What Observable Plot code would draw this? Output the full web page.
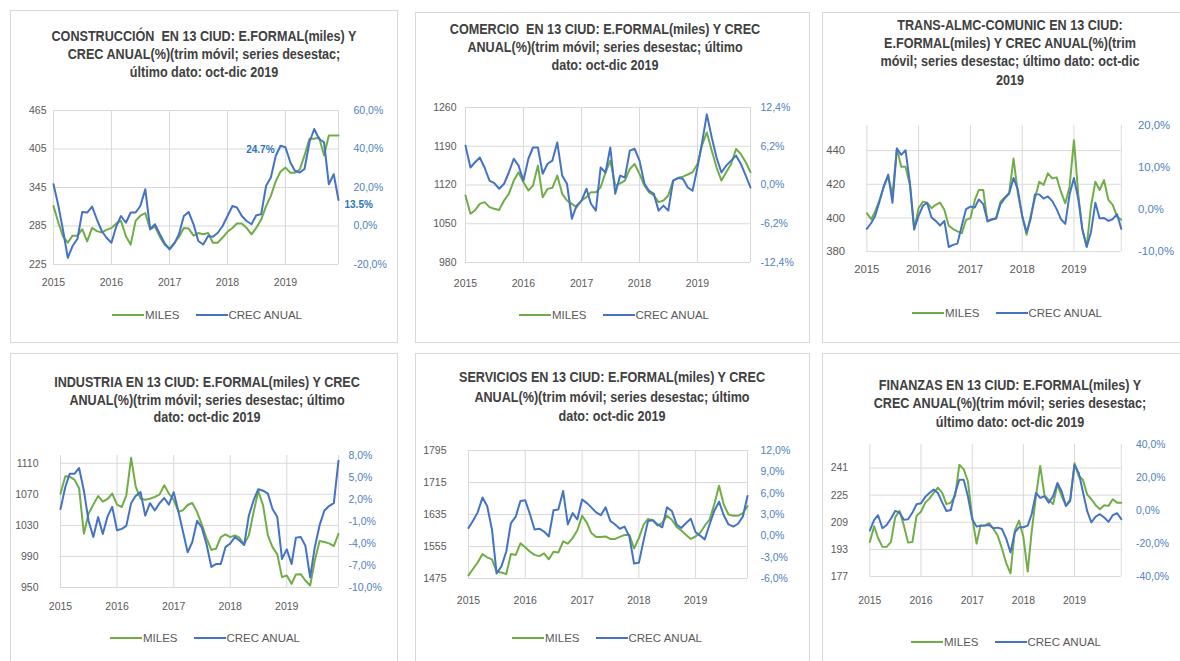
<!DOCTYPE html>
<html><head><meta charset="utf-8">
<script src="https://cdn.jsdelivr.net/npm/d3@7"></script>
<script src="https://cdn.jsdelivr.net/npm/@observablehq/plot@0.6"></script>
<style>
body{margin:0;background:#fff;width:1180px;height:661px;overflow:hidden;position:relative;font-family:"Liberation Sans Narrow","Liberation Sans",Arial,sans-serif;}
.card{position:absolute;border:1px solid #d9d9d9;background:#fff;box-sizing:border-box;}
.title{position:absolute;transform:translateX(-50%) scaleX(0.9);text-align:center;font-weight:bold;font-size:14px;color:#404040;white-space:pre;}
.chart{position:absolute;}
.chart svg{overflow:visible;}
.legend{position:absolute;transform:translate(-50%,-50%);display:flex;align-items:center;font-size:11.5px;color:#595959;white-space:nowrap;}
.sw{display:inline-block;width:32px;height:2px;margin-right:1px;}
</style></head><body>
<script>
// ---------- DATA ----------
const years = ["2015","2016","2017","2018","2019"];

const construccionMiles = [316,290,269,259,270,270,280,261,282,277,275,279,282,289,293,269,256,293,301,305,280,284,268,256,250,259,268,282,281,270,274,272,274,259,259,267,276,282,289,289,282,272,282,295,316,332,355,370,376,368,368,373,395,421,421,423,395,426,426,426];
const construccionCrec = [21.7,10.4,-1.7,-16.5,-10.4,-6.6,7.3,7.0,10.1,3.5,-2.6,-6.1,-8.7,0.0,5.2,1.7,7.0,7.0,10.4,19.1,-1.7,0.9,-4.3,-9.0,-12.2,-9.0,-4.3,5.2,7.3,0.9,-7.8,-9.6,-5.2,-5.6,-3.5,0.0,5.2,10.4,9.6,5.2,2.6,0.9,5.6,6.1,20.9,25.2,36.5,41.7,40.9,33.0,28.7,27.8,29.6,43.5,50.4,45.2,43.5,21.7,26.9,13.5];
const construccionNotes = ["24.7%","13.5%"];

const comercioMiles = [1101,1068,1074,1086,1089,1080,1077,1075,1092,1104,1128,1143,1125,1110,1119,1155,1098,1113,1115,1137,1104,1092,1086,1080,1092,1098,1107,1107,1116,1143,1164,1119,1123,1128,1149,1158,1140,1119,1107,1101,1089,1092,1101,1128,1133,1135,1139,1143,1158,1194,1215,1182,1152,1128,1143,1158,1185,1176,1161,1143];
const comercioCrec = [6.3,2.8,3.6,4.4,2.8,0.7,0.3,-0.6,0.2,2.0,4.2,3.1,0.7,4.2,6.0,6.0,1.8,3.4,3.9,6.8,1.5,0.2,-5.4,-3.3,-2.5,-0.6,-3.0,-4.1,2.8,2.0,6.0,-1.4,1.5,1.2,5.5,5.8,3.9,0.2,-0.9,-1.4,-4.1,-3.3,-4.1,0.7,1.1,1.0,-0.4,-0.9,2.8,7.1,11.3,7.6,4.4,2.0,3.1,3.9,4.7,3.4,1.5,-0.4];

const transMiles = [402.8,399.3,403.8,410.7,418.6,424.5,413.7,441.2,430.4,430.4,419.6,393.0,405.8,409.7,409.1,405.8,407.8,409.1,404.8,395.4,393.4,392.0,391.0,398.9,399.9,410.7,416.6,416.6,397.9,398.9,399.7,409.7,412.3,414.7,435.3,414.7,400.9,390.0,400.9,411.7,421.5,419.6,426.5,423.5,424.1,415.6,408.7,418.6,446.2,413.7,393.0,383.1,406.8,421.5,416.6,422.5,410.7,407.8,400.9,398.9];
const transCrec = [-4.6,-3.2,-1.5,2.0,5.6,8.3,1.6,14.5,13.0,14.1,6.3,-4.6,-1.5,0.9,1.6,-1.9,-2.7,-3.8,-2.7,-8.9,-8.4,-8.1,-3.8,0.1,0.7,0.5,2.4,1.3,-2.7,-2.3,-2.1,1.3,2.7,3.8,7.5,4.8,-1.5,-5.4,-2.3,3.6,3.6,2.6,3.1,2.0,0.1,-2.3,-3.4,3.6,7.5,2.4,-4.6,-8.9,-5.4,1.6,-2.1,-2.0,-2.7,-2.3,-1.1,-4.6];

const industriaMiles = [1070.9,1093.2,1092.8,1088.9,1077.7,1019.2,1045.1,1056.7,1067.8,1060.5,1064.0,1070.9,1056.7,1053.7,1068.7,1117.0,1079.5,1064.4,1063.1,1064.4,1066.6,1069.6,1081.6,1070.9,1062.7,1047.6,1049.4,1056.2,1058.8,1047.2,1031.3,1013.2,998.6,999.9,1014.9,1018.4,1014.9,1017.1,1014.1,1005.5,1017.1,1047.2,1074.3,1055.8,1017.1,1002.0,992.6,963.3,965.5,954.7,966.8,967.2,959.0,952.6,984.8,1009.8,1008.5,1006.8,1003.3,1019.2];
const industriaCrec = [0.7,3.7,5.5,5.5,6.3,3.2,-0.9,-3.1,-0.4,-2.7,-0.3,1.0,-2.2,-2.0,-1.6,1.5,2.5,3.0,-0.2,1.5,0.5,1.5,2.2,1.3,3.0,0.3,-2.3,-5.2,-3.8,-0.9,-1.8,-4.1,-7.2,-6.8,-6.8,-4.5,-4.0,-3.1,-3.6,-4.2,-0.2,1.9,3.4,3.2,2.8,0.7,-0.4,-6.1,-4.8,-6.8,-3.2,-3.1,-4.3,-8.6,-4.5,-1.5,0.5,1.1,1.5,7.3];

const serviciosMiles = [1483,1500,1515,1536,1528,1523,1492,1490,1486,1536,1534,1563,1553,1542,1534,1531,1538,1523,1542,1540,1568,1562,1576,1595,1632,1614,1589,1579,1579,1580,1574,1574,1579,1584,1584,1550,1576,1610,1624,1621,1607,1614,1632,1622,1604,1595,1584,1574,1580,1590,1607,1622,1660,1707,1660,1635,1632,1632,1638,1656];
const serviciosCrec = [1.1,2.2,3.3,5.4,4.2,0.9,-5.3,-4.3,-2.2,1.8,2.7,4.9,5.0,3.0,0.9,1.0,0.6,-0.1,3.6,3.7,6.3,1.6,3.2,2.3,5.1,4.6,4.0,3.3,2.9,4.0,2.1,1.6,1.0,1.3,-0.1,-3.9,-3.8,-0.6,2.1,2.2,1.6,1.2,4.0,3.5,1.6,1.1,1.8,2.4,0.5,0.0,-0.5,1.6,3.5,4.8,2.9,1.6,1.3,1.7,2.7,5.6];

const finanzasMiles = [197.4,206.7,199.7,194.5,194.5,197.4,211.9,215.8,207.1,197.0,197.4,212.9,215.2,220.6,223.0,226.4,229.4,226.4,219.7,220.6,224.5,242.9,240.4,233.2,211.9,196.4,207.1,207.1,208.6,205.1,201.2,193.5,184.8,178.9,204.1,210.0,200.3,179.9,203.2,224.5,242.3,224.9,222.2,219.7,231.3,224.5,218.7,222.6,243.9,236.1,234.2,225.5,222.6,219.1,216.7,219.1,218.7,222.6,220.6,220.6];
const finanzasCrec = [-12.2,-5.7,-2.9,-10.8,-8.8,-4.9,-0.3,-1.3,-5.7,-5.3,-1.3,3.7,4.3,8.2,10.6,12.6,10.6,4.7,-0.3,0.3,10.6,18.6,18.6,8.6,-5.3,-9.8,-9.2,-9.2,-8.8,-10.8,-10.4,-11.2,-17.2,-25.5,-13.2,-10.2,-10.2,-9.2,-2.3,10.6,7.6,8.6,4.7,8.6,16.6,11.6,2.7,5.7,27.5,22.5,11.6,-0.3,-7.2,-3.7,-2.3,-4.3,-6.9,-2.9,-1.7,-5.3];

const constLeftTicks = [225,285,345,405,465], constRightTicks = [-20,0,20,40,60];
const comLeftTicks = [980,1050,1120,1190,1260], comRightTicks = [-12.4,-6.2,0,6.2,12.4];
const transLeftTicks = [380,400,420,440], transRightTicks = [-10,0,10,20];
const indLeftTicks = [950,990,1030,1070,1110], indRightTicks = [-10,-7,-4,-1,2,5,8];
const servLeftTicks = [1475,1555,1635,1715,1795], servRightTicks = [-6,-3,0,3,6,9,12];
const finLeftTicks = [177,193,209,225,241], finRightTicks = [-40,-20,0,20,40];

const constDomains = [[225,465],[-20,60]];
const comDomains = [[980,1260],[-12.4,12.4]];
const transDomains = [[380,455],[-10,20]];
const indDomains = [[950,1120],[-10,8]];
const servDomains = [[1475,1795],[-6,12]];
const finDomains = [[177,255],[-40,40]];

const titleConstruccion = ["CONSTRUCCIÓN  EN 13 CIUD: E.FORMAL(miles) Y","CREC ANUAL(%)(trim móvil; series desestac;","último dato: oct-dic 2019"];
const titleComercio = ["COMERCIO  EN 13 CIUD: E.FORMAL(miles) Y CREC","ANUAL(%)(trim móvil; series desestac; último","dato: oct-dic 2019"];
const titleTrans = ["TRANS-ALMC-COMUNIC EN 13 CIUD:","E.FORMAL(miles) Y CREC ANUAL(%)(trim","móvil; series desestac; último dato: oct-dic","2019"];
const titleIndustria = ["INDUSTRIA EN 13 CIUD: E.FORMAL(miles) Y CREC","ANUAL(%)(trim móvil; series desestac; último","dato: oct-dic 2019"];
const titleServicios = ["SERVICIOS EN 13 CIUD: E.FORMAL(miles) Y CREC","ANUAL(%)(trim móvil; series desestac; último","dato: oct-dic 2019"];
const titleFinanzas = ["FINANZAS EN 13 CIUD: E.FORMAL(miles) Y","CREC ANUAL(%)(trim móvil; series desestac;","último dato: oct-dic 2019"];
const legendLabels = ["MILES","CREC ANUAL"];

// ---------- LAYOUT ----------
const GREEN = "#70ad47", BLUE = "#4472c4", BLUETXT = "#4f81bd", GRID = "#d9d9d9", TXT = "#595959";
const FONT = "'Liberation Sans Narrow','Liberation Sans',Arial,sans-serif";
const months = d3.utcMonth.range(new Date(Date.UTC(2015,0,1)), new Date(Date.UTC(2020,0,1)));
const yearDates = years.map(y => new Date(Date.UTC(+y,0,1)));
const gridDates = [...yearDates, months[months.length-1]];
const fmtPct = d => d.toFixed(1).replace(".", ",") + "%";

const panels = [
  {miles:construccionMiles, crec:construccionCrec, title:titleConstruccion, lt:constLeftTicks, rt:constRightTicks, dom:constDomains,
   card:[10,10,388,333], tc:[204,36,18], P:[53,338,110,264], lpad:7, rpad:15, xpad:14, fs:10.5, leg:[207,315], notes:construccionNotes},
  {miles:comercioMiles, crec:comercioCrec, title:titleComercio, lt:comLeftTicks, rt:comRightTicks, dom:comDomains,
   card:[415,12,395,331], tc:[605,29,18], P:[465,750,107,262], lpad:9, rpad:10, xpad:17, fs:10.5, leg:[614,315]},
  {miles:transMiles, crec:transCrec, title:titleTrans, lt:transLeftTicks, rt:transRightTicks, dom:transDomains,
   card:[822,12,370,331], tc:[1010,25,18.3], P:[867,1125,125,253], lpad:22, rpad:17, xpad:13, fs:11.5, leg:[1007,313]},
  {miles:industriaMiles, crec:industriaCrec, title:titleIndustria, lt:indLeftTicks, rt:indRightTicks, dom:indDomains,
   card:[10,353,388,320], tc:[207,383,17.5], P:[60,338,455,587], lpad:22, rpad:10, xpad:15, fs:10.5, leg:[205,638]},
  {miles:serviciosMiles, crec:serviciosCrec, title:titleServicios, lt:servLeftTicks, rt:servRightTicks, dom:servDomains,
   card:[415,353,395,320], tc:[612,378,19.5], P:[468,747,450,578], lpad:22, rpad:13, xpad:18, fs:10.5, leg:[607,638]},
  {miles:finanzasMiles, crec:finanzasCrec, title:titleFinanzas, lt:finLeftTicks, rt:finRightTicks, dom:finDomains,
   card:[822,353,370,320], tc:[1010,385,18.5], P:[870,1125,444,578], lpad:22, rpad:15, xpad:20, fs:10.5, leg:[1006,642]}
];

function el(tag, cls, css, parent=document.body){const e=document.createElement(tag); if(cls) e.className=cls; Object.assign(e.style, css); parent.appendChild(e); return e;}

for (const p of panels) {
  const [cx, cy, cw, ch] = p.card;
  el("div","card",{left:cx+"px",top:cy+"px",width:cw+"px",height:ch+"px"});
  const t = el("div","title",{left:p.tc[0]+"px",top:(p.tc[1]-p.tc[2]/2)+"px",lineHeight:p.tc[2]+"px"});
  t.textContent = p.title.join("\n");

  const [L,R,T,B] = p.P;
  const mL=50, mR=60, mT=10, mB=40;
  const common = {width:R-L+mL+mR, height:B-T+mT+mB, marginLeft:mL, marginRight:mR, marginTop:mT, marginBottom:mB,
    style:{background:"transparent", fontFamily:FONT, fontSize:p.fs+"px", overflow:"visible"}};
  const rows = months.map((d,i)=>({date:d, miles:p.miles[i], crec:p.crec[i]}));
  const xs = {type:"utc", domain:[months[0], months[months.length-1]]};

  const left = Plot.plot({...common, x:{...xs, label:null}, y:{domain:p.dom[0], label:null},
    marks:[
      Plot.gridY({ticks:p.lt, stroke:GRID, strokeOpacity:1}),
      Plot.gridX({ticks:gridDates, stroke:GRID, strokeOpacity:1}),
      Plot.axisY({ticks:p.lt, anchor:"left", tickSize:0, tickPadding:p.lpad, fill:TXT, label:null, tickFormat:d=>String(d)}),
      Plot.axisX({ticks:yearDates, anchor:"bottom", tickSize:0, tickPadding:p.xpad, fill:TXT, label:null, tickFormat:"%Y"}),
      Plot.line(rows, {x:"date", y:"miles", stroke:GREEN, strokeWidth:2})
    ]});
  const rmarks = [
      Plot.axisY({ticks:p.rt, anchor:"right", tickSize:0, tickPadding:p.rpad, fill:BLUETXT, label:null, tickFormat:fmtPct}),
      Plot.line(rows, {x:"date", y:"crec", stroke:BLUE, strokeWidth:2})
  ];
  if (p.notes) {
    rmarks.push(Plot.text([rows[47]], {x:"date", y:"crec", text:()=>p.notes[0], textAnchor:"end", dx:-6, dy:4, fill:"#2e75b6", fontWeight:"bold", fontSize:10}));
    rmarks.push(Plot.text([rows[59]], {x:"date", y:"crec", text:()=>p.notes[1], textAnchor:"start", dx:6, dy:5, fill:"#2e75b6", fontWeight:"bold", fontSize:10}));
  }
  const right = Plot.plot({...common, x:{...xs, axis:null}, y:{domain:p.dom[1], label:null}, marks:rmarks});

  for (const svg of [left, right]) {
    const holder = el("div","chart",{left:(L-mL)+"px", top:(T-mT)+"px"});
    holder.appendChild(svg);
  }

  const lg = el("div","legend",{left:p.leg[0]+"px", top:p.leg[1]+"px"});
  lg.innerHTML = `<span class="sw" style="background:${GREEN}"></span><span>${legendLabels[0]}</span><span style="width:16px;display:inline-block"></span><span class="sw" style="background:${BLUE}"></span><span>${legendLabels[1]}</span>`;
}
</script>
</body></html>
